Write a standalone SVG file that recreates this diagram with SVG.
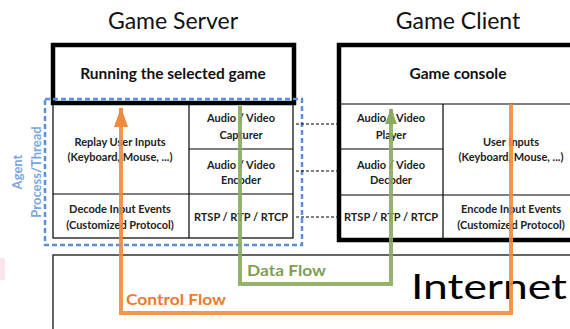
<svg xmlns="http://www.w3.org/2000/svg" width="570" height="329" viewBox="0 0 570 329">
<defs>
<style>
text{font-family:Lato,"Liberation Sans",sans-serif;fill:#111}
.t{font-size:23px;text-anchor:middle}
.h{font-size:15.5px;font-weight:bold;text-anchor:middle}
.c{font-size:11px;font-weight:bold;text-anchor:middle;fill:#222}
.thick{fill:none;stroke:#000;stroke-width:4.5}
.thin{fill:none;stroke:#000;stroke-width:1.2}
.dot{fill:none;stroke:#000;stroke-width:1;stroke-dasharray:3 2}
.ctrl{fill:none;stroke:#f28a3c;stroke-width:4;stroke-opacity:0.9}
.data{fill:none;stroke:#8aab5c;stroke-width:4;stroke-opacity:0.9}
</style>
<marker id="ao" viewBox="0 0 20 14" refX="19" refY="7" markerWidth="20" markerHeight="14" markerUnits="userSpaceOnUse" orient="auto">
<path d="M0,0 L20,7 L0,14 Z" fill="#f28a3c"/>
</marker>
<marker id="ag" viewBox="0 0 16 12" refX="15" refY="6" markerWidth="16" markerHeight="12" markerUnits="userSpaceOnUse" orient="auto">
<path d="M0,0 L16,6 L0,12 Z" fill="#8aab5c"/>
</marker>
</defs>
<rect x="0" y="0" width="570" height="329" fill="#fff"/>
<rect x="0" y="258" width="5" height="22" fill="#fde4ea"/>

<g id="internet">
<rect x="53" y="255" width="530" height="90" class="thin"/>
<text x="411" y="299" textLength="156" lengthAdjust="spacingAndGlyphs" style="font-size:34px;fill:#000">Internet</text>
</g>

<g id="game-server">
<text class="t" x="173" y="29">Game Server</text>
<rect x="53" y="45" width="241" height="58" class="thick"/>
<text class="h" x="173" y="79">Running the selected game</text>
<rect x="53" y="103" width="240" height="135" class="thin"/>
<line x1="189" y1="103" x2="189" y2="238" class="thin"/>
<line x1="189" y1="149" x2="293" y2="149" class="thin"/>
<line x1="53" y1="194" x2="293" y2="194" class="thin"/>
<text class="c" x="120" y="146">Replay User Inputs</text>
<text class="c" x="120" y="161">(Keyboard, Mouse, ...)</text>
<text class="c" x="241" y="122">Audio / Video</text>
<text class="c" x="241" y="139">Capturer</text>
<text class="c" x="241" y="169">Audio / Video</text>
<text class="c" x="241" y="184">Encoder</text>
<text class="c" x="120" y="213">Decode Input Events</text>
<text class="c" x="120" y="229">(Customized Protocol)</text>
<text class="c" x="241" y="221">RTSP / RTP / RTCP</text>
</g>

<g id="agent">
<rect x="45" y="99" width="257" height="146" fill="none" stroke="#5b8fd9" stroke-width="2.5" stroke-dasharray="5 3"/>
<text transform="translate(22,172) rotate(-90)" style="font-size:13px;font-weight:bold;fill:#7aa6e0;text-anchor:middle">Agent</text>
<text transform="translate(41,172) rotate(-90)" style="font-size:13px;font-weight:bold;fill:#7aa6e0;text-anchor:middle">Process/Thread</text>
</g>

<g id="game-client">
<text class="t" x="458" y="29">Game Client</text>
<rect x="339" y="45" width="240" height="195" class="thick"/>
<line x1="339" y1="104" x2="579" y2="104" class="thin"/>
<line x1="443" y1="104" x2="443" y2="240" class="thin"/>
<line x1="339" y1="149" x2="443" y2="149" class="thin"/>
<line x1="339" y1="195" x2="579" y2="195" class="thin"/>
<text class="h" x="458" y="79">Game console</text>
<text class="c" x="391" y="122">Audio / Video</text>
<text class="c" x="391" y="139">Player</text>
<text class="c" x="391" y="169">Audio / Video</text>
<text class="c" x="391" y="184">Decoder</text>
<text class="c" x="391" y="221">RTSP / RTP / RTCP</text>
<text class="c" x="511" y="146">User Inputs</text>
<text class="c" x="511" y="161">(Keyboard, Mouse, ...)</text>
<text class="c" x="511" y="213">Encode Input Events</text>
<text class="c" x="511" y="229">(Customized Protocol)</text>
</g>

<g id="connectors">
<line x1="296" y1="124" x2="338" y2="124" class="dot"/>
<line x1="296" y1="171" x2="338" y2="171" class="dot"/>
<line x1="296" y1="217" x2="338" y2="217" class="dot"/>
<path d="M240,106 V284 H391 V109" class="data" marker-end="url(#ag)"/>
<path d="M511,104 V313 H121 V108" class="ctrl" marker-end="url(#ao)"/>
<text x="247" y="276" textLength="79" lengthAdjust="spacingAndGlyphs" style="font-size:15px;font-weight:bold;fill:#7f9f52">Data Flow</text>
<text x="126" y="305" textLength="100" lengthAdjust="spacingAndGlyphs" style="font-size:15px;font-weight:bold;fill:#f07a2c">Control Flow</text>
</g>
</svg>
